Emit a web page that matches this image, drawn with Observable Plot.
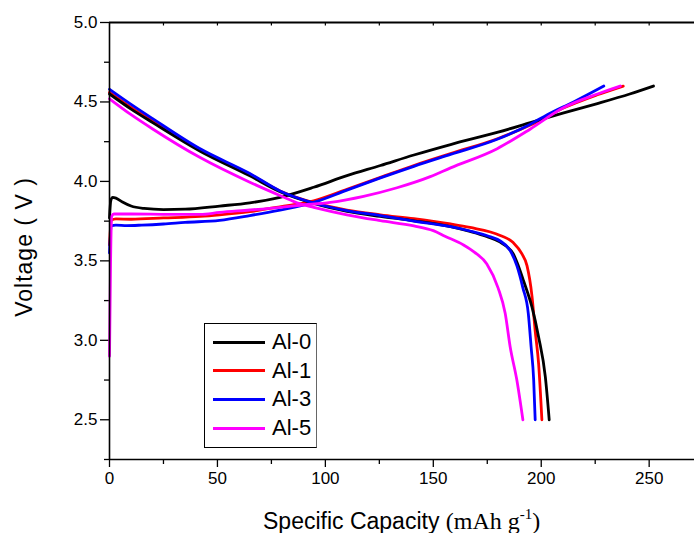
<!DOCTYPE html>
<html>
<head>
<meta charset="utf-8">
<script src="https://cdn.jsdelivr.net/npm/d3@7"></script>
<script src="https://cdn.jsdelivr.net/npm/@observablehq/plot@0.6"></script>
<style>
  html, body { margin: 0; padding: 0; background: #fff; }
  #wrap { position: relative; width: 694px; height: 533px; }
  #legend { position: absolute; left: 204px; top: 323px; width: 113px; height: 125px;
    border: 1px solid #000; border-right-color: #666; background: #fff; box-sizing: border-box;
    font-family: "Liberation Sans", Arial, sans-serif; font-size: 22px; }
  .row { position: absolute; left: 8px; height: 26px; display: flex; align-items: center; }
  .sw { width: 52px; height: 3px; margin-right: 7px; }
</style>
</head>
<body>
<div id="wrap"></div>
<script>
// ---- data (specific capacity mAh/g, voltage V) ----
const seriesNames = ["Al-0", "Al-1", "Al-3", "Al-5"];
const seriesColors = ["#000000", "#ff0000", "#0000ff", "#ff00ff"];

const al0Charge = [[0,3.77],[0.6,3.88],[1.5,3.9],[3,3.895],[6,3.87],[10,3.845],[16,3.83],[25,3.823],[35,3.825],[51,3.845],[65,3.865],[79,3.9],[94.6,3.963],[110,4.036],[125.5,4.1],[141,4.166],[158,4.232],[180,4.31],[195,4.37],[210,4.43],[226,4.49],[241,4.55],[252,4.6]];
const al1Charge = [[0,3.6],[0.8,3.755],[3,3.764],[10,3.762],[25,3.77],[42,3.78],[51,3.79],[65,3.81],[79,3.84],[94.6,3.878],[110,3.95],[125.5,4.025],[141,4.1],[158,4.175],[180,4.27],[195,4.355],[210,4.46],[226,4.545],[238,4.6]];
const al3Charge = [[0,3.55],[0.8,3.72],[3,3.725],[8,3.722],[15,3.725],[25,3.732],[35,3.742],[51,3.755],[65,3.785],[79,3.82],[94.6,3.868],[110,3.945],[125.5,4.022],[141,4.095],[158,4.17],[179.6,4.265],[195,4.36],[202.8,4.42],[215,4.5],[229,4.6]];
const al5Charge = [[0,2.9],[0.5,3.5],[1,3.78],[2,3.795],[10,3.795],[25,3.793],[42,3.792],[51,3.805],[65,3.82],[79.2,3.837],[88.4,3.85],[102.3,3.868],[117.7,3.906],[133.2,3.96],[148.6,4.03],[158,4.085],[179.6,4.206],[195,4.33],[210,4.462],[226,4.55],[236.6,4.6]];

const al0Discharge = [[0,4.55],[10,4.455],[20,4.37],[42,4.19],[65,4.035],[79,3.935],[95,3.86],[110,3.812],[125.5,3.78],[141,3.752],[158,3.715],[167,3.685],[175,3.652],[181,3.618],[184,3.59],[187,3.545],[189.5,3.465],[191.8,3.375],[195.7,3.21],[198.8,3.02],[201.9,2.77],[203.7,2.5]];
const al1Discharge = [[0,4.56],[10,4.465],[20,4.38],[42,4.2],[65,4.045],[79,3.94],[95,3.865],[110,3.82],[125.5,3.79],[141,3.765],[158,3.732],[167,3.71],[181,3.66],[187,3.615],[191,3.545],[193.4,3.47],[195.7,3.28],[197.2,3.06],[198.8,2.85],[200.3,2.5]];
const al3Discharge = [[0,4.58],[10,4.485],[20,4.395],[42,4.205],[65,4.05],[79,3.94],[94.6,3.864],[110,3.816],[125.5,3.785],[141,3.75],[158,3.715],[167,3.688],[175,3.658],[181,3.625],[185.6,3.565],[188.7,3.47],[191.5,3.33],[194,3.17],[195.3,2.96],[196.5,2.75],[197.2,2.5]];
const al5Discharge = [[0,4.52],[10,4.42],[20,4.33],[42,4.15],[65,3.995],[79.2,3.91],[88,3.86],[94.6,3.837],[110,3.79],[125.5,3.753],[141,3.72],[150,3.69],[155.4,3.655],[164,3.6],[169,3.555],[174.8,3.48],[180,3.33],[183.3,3.17],[185.6,2.96],[188.7,2.75],[191.5,2.5]];

const xMajor = [0, 50, 100, 150, 200, 250];
const xMinor = [25, 75, 125, 175, 225];
const xTop = [25, 50, 75, 100, 125, 150, 175, 200, 225, 250];
const yMajor = [2.5, 3.0, 3.5, 4.0, 4.5, 5.0];
const yMinor = [2.25, 2.75, 3.25, 3.75, 4.25, 4.75];

const curves = [
  {name: "Al-1", color: seriesColors[1], charge: al1Charge, discharge: al1Discharge},
  {name: "Al-0", color: seriesColors[0], charge: al0Charge, discharge: al0Discharge},
  {name: "Al-3", color: seriesColors[2], charge: al3Charge, discharge: al3Discharge},
  {name: "Al-5", color: seriesColors[3], charge: al5Charge, discharge: al5Discharge}
];

const lineMarks = [];
for (const c of curves) {
  for (const seg of [c.charge, c.discharge]) {
    lineMarks.push(Plot.line(seg, {x: d => d[0], y: d => d[1], stroke: c.color, strokeWidth: 2.8, curve: "monotone-x"}));
  }
}

const plot = Plot.plot({
  width: 694, height: 533,
  marginLeft: 109, marginRight: 0, marginTop: 22, marginBottom: 74,
  style: {fontFamily: "'Liberation Sans', Arial, sans-serif", fontSize: "17px", background: "#fff", overflow: "visible"},
  x: {domain: [0, 271]},
  y: {domain: [2.25, 5.0]},
  marks: [
    Plot.axisX({ticks: xMajor, tickSize: 8, tickPadding: 4, tickFormat: d => String(d), label: null, fontSize: 17, stroke: "#000", strokeWidth: 1.3}),
    Plot.axisX({ticks: xMinor, tickSize: 5, tickFormat: () => "", label: null, strokeWidth: 1.3}),
    Plot.axisY({ticks: yMajor, tickSize: 9, tickPadding: 3, tickFormat: d3.format(".1f"), label: null, fontSize: 17, strokeWidth: 1.3}),
    Plot.axisY({ticks: yMinor, tickSize: 5, tickFormat: () => "", label: null, strokeWidth: 1.3}),
    Plot.ruleX(xTop, {x: d => d, y1: 5.0, y2: 4.978, strokeWidth: 1.2}),
    ...lineMarks,
    Plot.ruleX([0], {strokeWidth: 1.6}),
    Plot.ruleY([2.25], {strokeWidth: 1.6}),
    Plot.ruleY([5.0], {strokeWidth: 2})
  ]
});

const svg = d3.select(plot);
const serif = "'Liberation Serif', 'Times New Roman', serif";
const xt = svg.append("text")
  .attr("x", 263).attr("y", 529)
  .attr("text-anchor", "start")
  .attr("fill", "#000")
  .style("font-family", "'Liberation Sans', Arial, sans-serif")
  .style("font-size", "23px");
xt.append("tspan").text("Specific Capacity ");
xt.append("tspan").style("font-family", serif).style("font-size", "24px").text("(mAh g");
xt.append("tspan").style("font-family", serif).style("font-size", "15px").attr("dy", -10).text("-1");
xt.append("tspan").style("font-family", serif).style("font-size", "24px").attr("dy", 10).text(")");

svg.append("text")
  .attr("transform", "translate(32,247) rotate(-90)")
  .attr("text-anchor", "middle")
  .attr("fill", "#000")
  .style("font-family", "'Liberation Sans', Arial, sans-serif")
  .style("font-size", "23px")
  .style("letter-spacing", "1px")
  .text("Voltage ( V )");

const wrap = document.getElementById("wrap");
wrap.appendChild(plot);

const legend = document.createElement("div");
legend.id = "legend";
seriesNames.forEach((n, i) => {
  const row = document.createElement("div");
  row.className = "row";
  row.style.top = (5 + i * 28.7) + "px";
  const sw = document.createElement("div");
  sw.className = "sw";
  sw.style.background = seriesColors[i];
  const lab = document.createElement("span");
  lab.textContent = n;
  row.appendChild(sw);
  row.appendChild(lab);
  legend.appendChild(row);
});
wrap.appendChild(legend);
</script>
</body>
</html>
